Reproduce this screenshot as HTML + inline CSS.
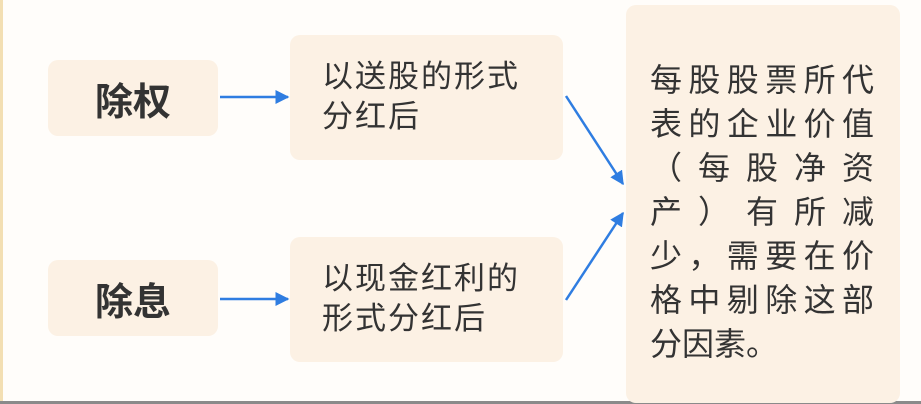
<!DOCTYPE html>
<html><head><meta charset="utf-8"><style>
body{margin:0;width:921px;height:404px;background:#fffdfa;position:relative;overflow:hidden;font-family:"Liberation Sans","Noto Sans CJK SC",sans-serif;color:#333}
.b{position:absolute;background:#fcf1e4;border-radius:10px}
.s{font-weight:bold;font-size:38px;display:flex;align-items:center;justify-content:center}
.m{font-size:31px;line-height:40px;padding:22px 0 0 32px;box-sizing:border-box;letter-spacing:2px;white-space:nowrap}
.r div{font-size:32px;height:44px;line-height:44px;text-align:justify;text-align-last:justify;width:224px;margin-left:24px;white-space:nowrap}
</style></head><body>
<div style="position:absolute;left:0;top:0;width:3px;height:404px;background:#f3dfb3"></div>
<div style="position:absolute;left:0;top:401px;width:921px;height:3px;background:#8a8a8a"></div>
<div class="b s" style="left:48px;top:60px;width:170px;height:76px">除权</div>
<div class="b s" style="left:48px;top:260px;width:170px;height:76px">除息</div>
<div class="b m" style="left:290px;top:35px;width:273px;height:125px">以送股的形式<br>分红后</div>
<div class="b m" style="left:290px;top:237px;width:273px;height:125px">以现金红利的<br>形式分红后</div>
<div class="b r" style="left:626px;top:5px;width:274px;height:398px;padding-top:53px;box-sizing:border-box">
<div>每股股票所代</div><div>表的企业价值</div><div>（每股净资</div><div>产）有所减</div><div>少，需要在价</div><div>格中剔除这部</div><div style="text-align-last:left">分因素。</div>
</div>
<svg width="921" height="404" style="position:absolute;left:0;top:0">
<defs>
<marker id="h" viewBox="0 0 10 10" refX="9" refY="5" markerWidth="14" markerHeight="14" orient="auto" markerUnits="userSpaceOnUse"><path d="M0,0L10,5L0,10z" fill="#2f7de1"/></marker></defs>
<g stroke="#2f7de1" stroke-width="2.5" fill="none">
<line x1="220" y1="97" x2="288" y2="97" marker-end="url(#h)"/>
<line x1="220" y1="299" x2="288" y2="299" marker-end="url(#h)"/>
<line x1="566" y1="96" x2="623" y2="184" marker-end="url(#h)"/>
<line x1="566" y1="300" x2="623" y2="213" marker-end="url(#h)"/>
</g></svg>
</body></html>
